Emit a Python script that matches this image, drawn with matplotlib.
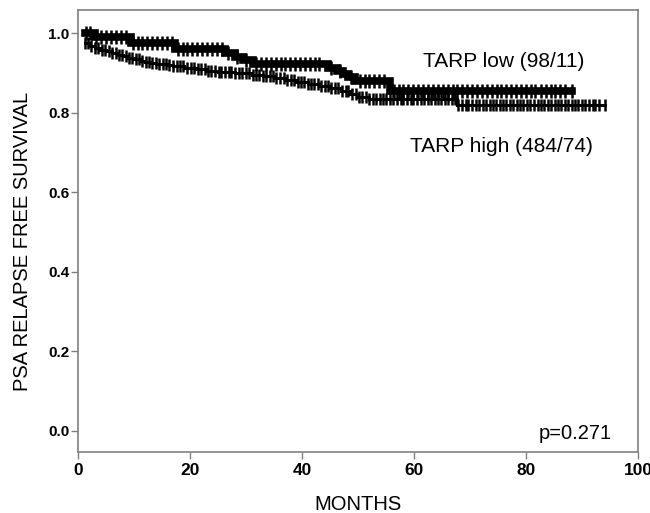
import numpy as np
import matplotlib
matplotlib.use("Agg")
import matplotlib.pyplot as plt

plt.rcParams['font.family'] = ['Liberation Sans', 'DejaVu Sans']

# ---- Kaplan-Meier steps (time in months, survival after step) ----
low_t = [0, 3.0, 9.5, 17.3, 26.3, 28.0, 29.5, 31.3, 44.6, 46.2, 47.3, 48.2, 49.5, 55.7]
low_s = [1.0, 0.99, 0.975, 0.96, 0.95, 0.94, 0.932, 0.922, 0.912, 0.905, 0.897, 0.89, 0.88, 0.855]
low_start, low_end = 1.3, 88.2

high_t = [0, 2, 3, 4, 5, 6, 7, 8, 9, 10, 11, 12, 13, 14, 16, 17, 19, 21, 23, 25, 28, 31,
          33, 35, 37, 39, 41, 43, 45, 47, 48.5, 50, 52, 67.7]
high_s = [0.975, 0.968, 0.962, 0.958, 0.954, 0.950, 0.946, 0.942, 0.938, 0.934, 0.931,
          0.928, 0.925, 0.922, 0.919, 0.916, 0.913, 0.909, 0.905, 0.902, 0.899, 0.895,
          0.891, 0.887, 0.882, 0.877, 0.872, 0.866, 0.861, 0.854, 0.846, 0.840, 0.834, 0.818]
high_start, high_end = 1.2, 94.1

# censored observations (tick marks)
low_cens = [1.4, 2.2, 3.3, 4.1, 5.0, 5.9, 6.8, 7.6, 8.5, 9.8, 10.7, 11.5, 12.4, 13.3, 14.1,
            15.0, 15.9, 16.8, 17.8, 18.7, 19.5, 20.4, 21.3, 22.1, 23.0, 23.9, 24.8, 25.7,
            26.8, 28.4, 30.0, 31.8, 32.7, 33.5, 34.4, 35.3, 36.2, 37.0, 37.9, 38.8, 39.7,
            40.5, 41.4, 42.3, 43.1, 45.2, 46.8, 48.8, 50.3, 51.2, 52.0, 52.9, 53.8, 54.7,
            56.4, 57.3, 58.1, 59.0, 59.9, 60.8, 61.6, 62.5, 63.4, 64.2, 65.1, 66.0, 66.9,
            67.7, 68.6, 69.5, 70.4, 71.3, 72.1, 73.0, 73.9, 74.8, 75.6, 76.5, 77.4, 78.2,
            79.1, 80.0, 80.9, 81.7, 82.6, 83.5, 84.4, 85.2, 86.1, 87.0, 88.2]
high_cens = [1.3, 1.8, 2.4, 3.1, 3.6, 4.2, 4.9, 5.5, 6.0, 6.7, 7.3, 7.8, 8.5, 9.1, 9.6, 10.3,
             10.9, 11.4, 12.1, 12.7, 13.2, 13.9, 14.5, 15.2, 15.7, 16.3, 17.0, 17.6, 18.3,
             18.8, 19.5, 20.1, 20.7, 21.4, 21.9, 22.6, 23.2, 23.7, 24.4, 25.1, 25.6, 26.3,
             26.9, 27.4, 28.1, 28.7, 29.3, 30.0, 30.5, 31.2, 31.8, 32.4, 33.1, 33.6, 34.3,
             34.9, 35.4, 36.1, 36.7, 37.3, 38.0, 38.5, 39.2, 39.8, 40.3, 41.0, 41.6, 42.2,
             42.9, 43.4, 44.1, 44.7, 45.2, 45.9, 46.5, 47.1, 47.8, 48.3, 49.0, 49.6, 50.1,
             50.8, 51.4, 52.0, 52.7, 53.2, 53.9, 54.5, 55.0, 55.7, 56.3, 56.9, 57.6, 58.1,
             58.8, 59.4, 59.9, 60.6, 61.2, 61.8, 62.5, 63.0, 63.7, 64.3, 64.8, 65.5, 66.1,
             66.7, 67.4, 67.9, 68.6, 69.2, 69.7, 70.4, 71.0, 71.6, 72.3, 72.8, 73.5, 74.1,
             74.6, 75.3, 75.9, 76.5, 77.2, 77.7, 78.4, 79.0, 79.5, 80.2, 80.8, 81.4, 82.1,
             82.6, 83.3, 83.9, 84.4, 85.1, 85.7, 86.3, 87.0, 87.5, 88.2, 88.8, 89.3, 90.0,
             90.6, 91.2, 91.9, 92.4, 93.1, 94.1]

x_ticks = [0, 20, 40, 60, 80, 100]
y_ticks = [0.0, 0.2, 0.4, 0.6, 0.8, 1.0]


def km_curve(t, s, start, end):
    xs = [start] + list(t[1:]) + [end]
    ys = [s[0]] + list(s[1:]) + [s[-1]]
    return xs, ys


def km_at(t, s, x):
    idx = np.searchsorted(np.array(t), np.array(x), side='right') - 1
    return np.array(s)[idx]


fig = plt.figure(figsize=(6.5, 5.13), dpi=100)
ax = fig.add_axes([0.12, 0.119, 0.8615, 0.8615])

# TARP high (thin line, dense censor ticks)
hx, hy = km_curve(high_t, high_s, high_start, high_end)
ax.step(hx, hy, where='post', color='black', lw=2.2, solid_joinstyle='miter')
ax.plot(high_cens, km_at(high_t, high_s, high_cens), ls='none', marker='|',
        ms=9, mew=1.8, color='black')

# TARP low (thick band)
lx, ly = km_curve(low_t, low_s, low_start, low_end)
ax.step(lx, ly, where='post', color='black', lw=5.5, solid_joinstyle='miter')
ax.plot(low_cens, km_at(low_t, low_s, low_cens), ls='none', marker='|',
        ms=10, mew=1.8, color='black')

ax.set_xlim(0, 100)
ax.set_ylim(-0.053, 1.058)
ax.set_xticks(x_ticks)
ax.set_yticks(y_ticks)
ax.set_xticklabels([str(v) for v in x_ticks], fontweight='bold', fontsize=12.5)
ax.set_yticklabels(['%.1f' % v for v in y_ticks], fontweight='bold', fontsize=11)
ax.tick_params(direction='out', length=5, width=1, color='#808080')
ax.tick_params(axis='y', pad=1)
ax.tick_params(axis='x', pad=3)

for sp in ax.spines.values():
    sp.set_color('#808080')
    sp.set_linewidth(1.2)

fig.text(358 / 650, 1 - 510 / 513, 'MONTHS', fontsize=14.5, ha='center', va='baseline')
fig.text(23 / 650, 1 - 241 / 513, 'PSA RELAPSE FREE SURVIVAL', fontsize=14.5,
         rotation=90, ha='center', va='center')

ax.text(76.1, 0.915, 'TARP low (98/11)', fontsize=15, ha='center', va='baseline')
ax.text(75.7, 0.701, 'TARP high (484/74)', fontsize=15, ha='center', va='baseline')
ax.text(95.4, -0.02, 'p=0.271', fontsize=14.5, ha='right', va='baseline')

fig.savefig('out.png', dpi=100)
